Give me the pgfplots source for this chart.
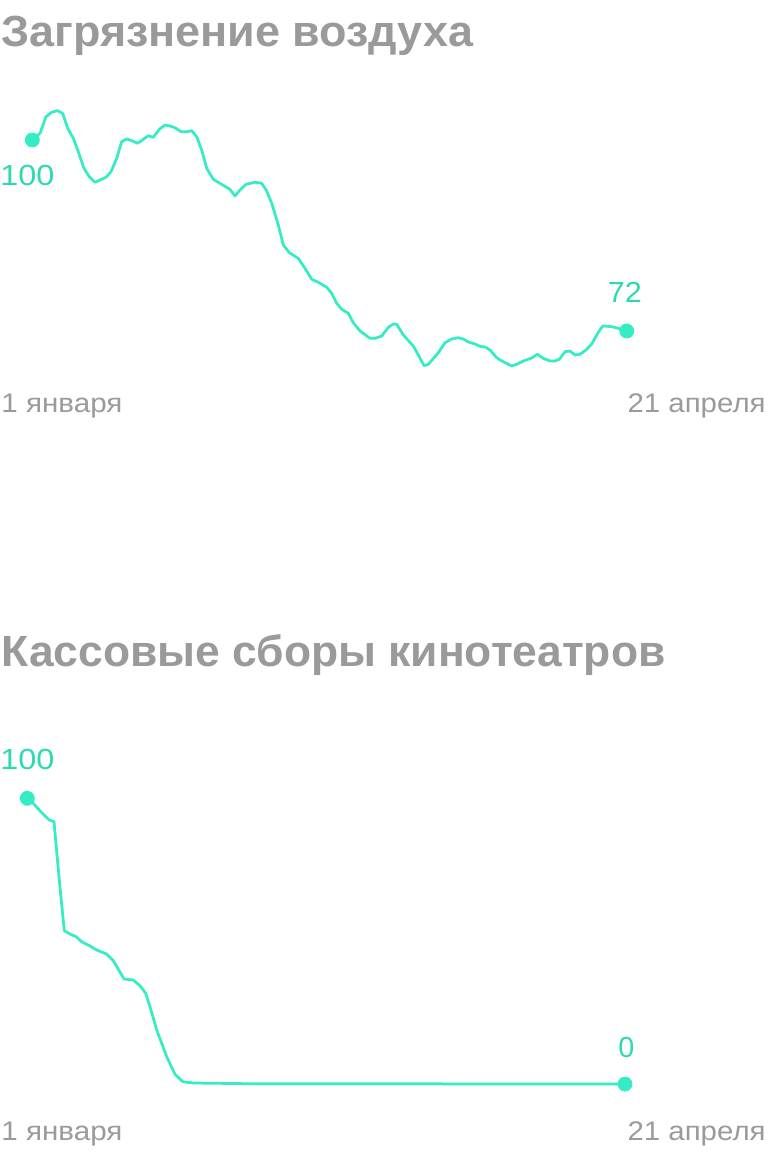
\documentclass[border=0pt]{standalone}
\usepackage{pgfplots}
\pgfplotsset{compat=1.18}
\usepackage{pgfplotstable}
\usepackage{fontspec}
\setmainfont{Liberation Sans}
\usepackage{graphicx}
\definecolor{mint}{HTML}{35ECC4}
\definecolor{minttext}{HTML}{2DD9B2}
\definecolor{labgray}{HTML}{9A9A9A}
\newcommand{\fit}[4]{\resizebox{#1}{#2}{#3\smash{#4}\vphantom{1}}}

\pgfplotstableread{
d v
0 100
1.44 100.98
2.56 103.42
3.62 104.06
4.67 104.30
5.68 103.91
6.61 101.72
7.66 100.25
8.59 98.28
9.65 95.85
10.64 94.62
11.71 93.80
12.64 94.13
13.76 94.53
14.70 95.35
15.76 97.32
16.69 99.75
17.63 100.15
18.56 99.90
19.68 99.52
20.73 100.10
21.66 100.63
22.60 100.40
23.72 101.57
24.78 102.20
25.71 102.05
26.65 101.80
27.77 101.22
28.83 101.22
29.77 101.36
30.70 100.48
31.63 98.53
32.57 95.85
33.80 94.24
35.05 93.65
36.92 92.77
37.85 91.79
38.79 92.67
39.91 93.50
41.59 93.80
42.84 93.65
43.77 92.52
44.71 90.72
45.94 87.54
46.87 84.60
47.99 83.48
49.67 82.65
50.92 81.19
52.18 79.57
53.41 79.13
54.98 78.40
55.91 77.52
56.84 76.06
57.78 75.18
59.01 74.59
59.94 73.21
61.20 71.99
63.06 70.92
64.00 70.92
65.25 71.26
66.48 72.54
67.41 73.02
68.05 72.98
69.28 71.41
71.15 69.79
72.08 68.48
73.15 66.91
73.95 67.11
75.82 68.81
77.07 70.28
78.32 70.82
79.55 71.01
80.49 70.82
81.42 70.38
82.67 70.09
83.60 69.75
84.54 69.65
85.47 69.21
86.72 68.08
87.66 67.60
89.52 66.86
90.46 67.11
91.69 67.60
93.26 68.04
94.30 68.58
95.43 67.99
96.68 67.60
97.61 67.60
98.41 67.84
99.48 68.96
100.41 69.06
101.34 68.48
102.28 68.58
103.40 69.21
104.46 70.09
105.70 71.80
106.52 72.73
108.20 72.63
109.43 72.39
111 72
}\airtable

\pgfplotstableread{
d v
0 100
1.11 98.25
2.67 94.96
4.09 92.40
4.96 91.81
5.94 71.40
6.87 53.66
7.93 52.50
9.04 51.56
10.10 49.81
11.64 48.30
12.89 46.90
14.74 45.50
15.97 43.16
17.96 36.75
19.68 36.40
20.93 34.41
21.99 31.75
22.79 27.06
24.03 18.90
25.89 9.56
27.43 3.40
28.86 0.81
30.83 0.35
41.36 0.10
111 0
}\boxtable

\begin{document}
\begin{tikzpicture}
\path[use as bounding box] (0,0) rectangle (384pt,-576pt);

% ---- top chart ----
\begin{axis}[
  at={(16.15pt,-185.94pt)}, anchor=south west,
  scale only axis, width=297.2pt, height=133pt,
  xmin=0, xmax=111, ymin=66, ymax=105,
  hide axis, clip=false]
\addplot[mint, line width=1.375pt, line join=round, line cap=round] table[x=d,y=v] {\airtable};
\addplot[only marks, mark=*, mark size=3.5pt, mint, mark options={draw=mint, fill=mint}] coordinates {(0,100) (111,72)};
\end{axis}

% ---- bottom chart ----
\begin{axis}[
  at={(13.65pt,-542pt)}, anchor=south west,
  scale only axis, width=298.85pt, height=142.85pt,
  xmin=0, xmax=111, ymin=0, ymax=100,
  hide axis, clip=false]
\addplot[mint, line width=1.375pt, line join=round, line cap=round] table[x=d,y=v] {\boxtable};
\addplot[only marks, mark=*, mark size=3.5pt, mint, mark options={draw=mint, fill=mint}] coordinates {(0,100) (111,0)};
\end{axis}

% ---- texts ----
\node[anchor=base west, inner sep=0pt, text=labgray] at (0.5pt,-23pt) {\fit{236pt}{15pt}{\bfseries}{Загрязнение воздуха}};
\node[anchor=base west, inner sep=0pt, text=labgray] at (0.5pt,-333pt) {\fit{332pt}{15pt}{\bfseries}{Кассовые сборы кинотеатров}};

\node[anchor=base west, inner sep=0pt, text=labgray] at (0.5pt,-206pt) {\fit{60.5pt}{9.25pt}{}{1 января}};
\node[anchor=base east, inner sep=0pt, text=labgray] at (383pt,-206pt) {\fit{69pt}{9.25pt}{}{21 апреля}};
\node[anchor=base west, inner sep=0pt, text=labgray] at (0.5pt,-570pt) {\fit{60.5pt}{9.25pt}{}{1 января}};
\node[anchor=base east, inner sep=0pt, text=labgray] at (383pt,-570pt) {\fit{69pt}{9.25pt}{}{21 апреля}};

\node[anchor=base west, inner sep=0pt, text=minttext] at (0pt,-92.5pt) {\fit{27pt}{10pt}{}{100}};
\node[anchor=base west, inner sep=0pt, text=minttext] at (303.75pt,-151pt) {\fit{17pt}{10pt}{}{72}};
\node[anchor=base west, inner sep=0pt, text=minttext] at (0pt,-384.5pt) {\fit{27pt}{10pt}{}{100}};
\node[anchor=base west, inner sep=0pt, text=minttext] at (309pt,-528.75pt) {\fit{8pt}{10pt}{}{0}};
\end{tikzpicture}
\end{document}
